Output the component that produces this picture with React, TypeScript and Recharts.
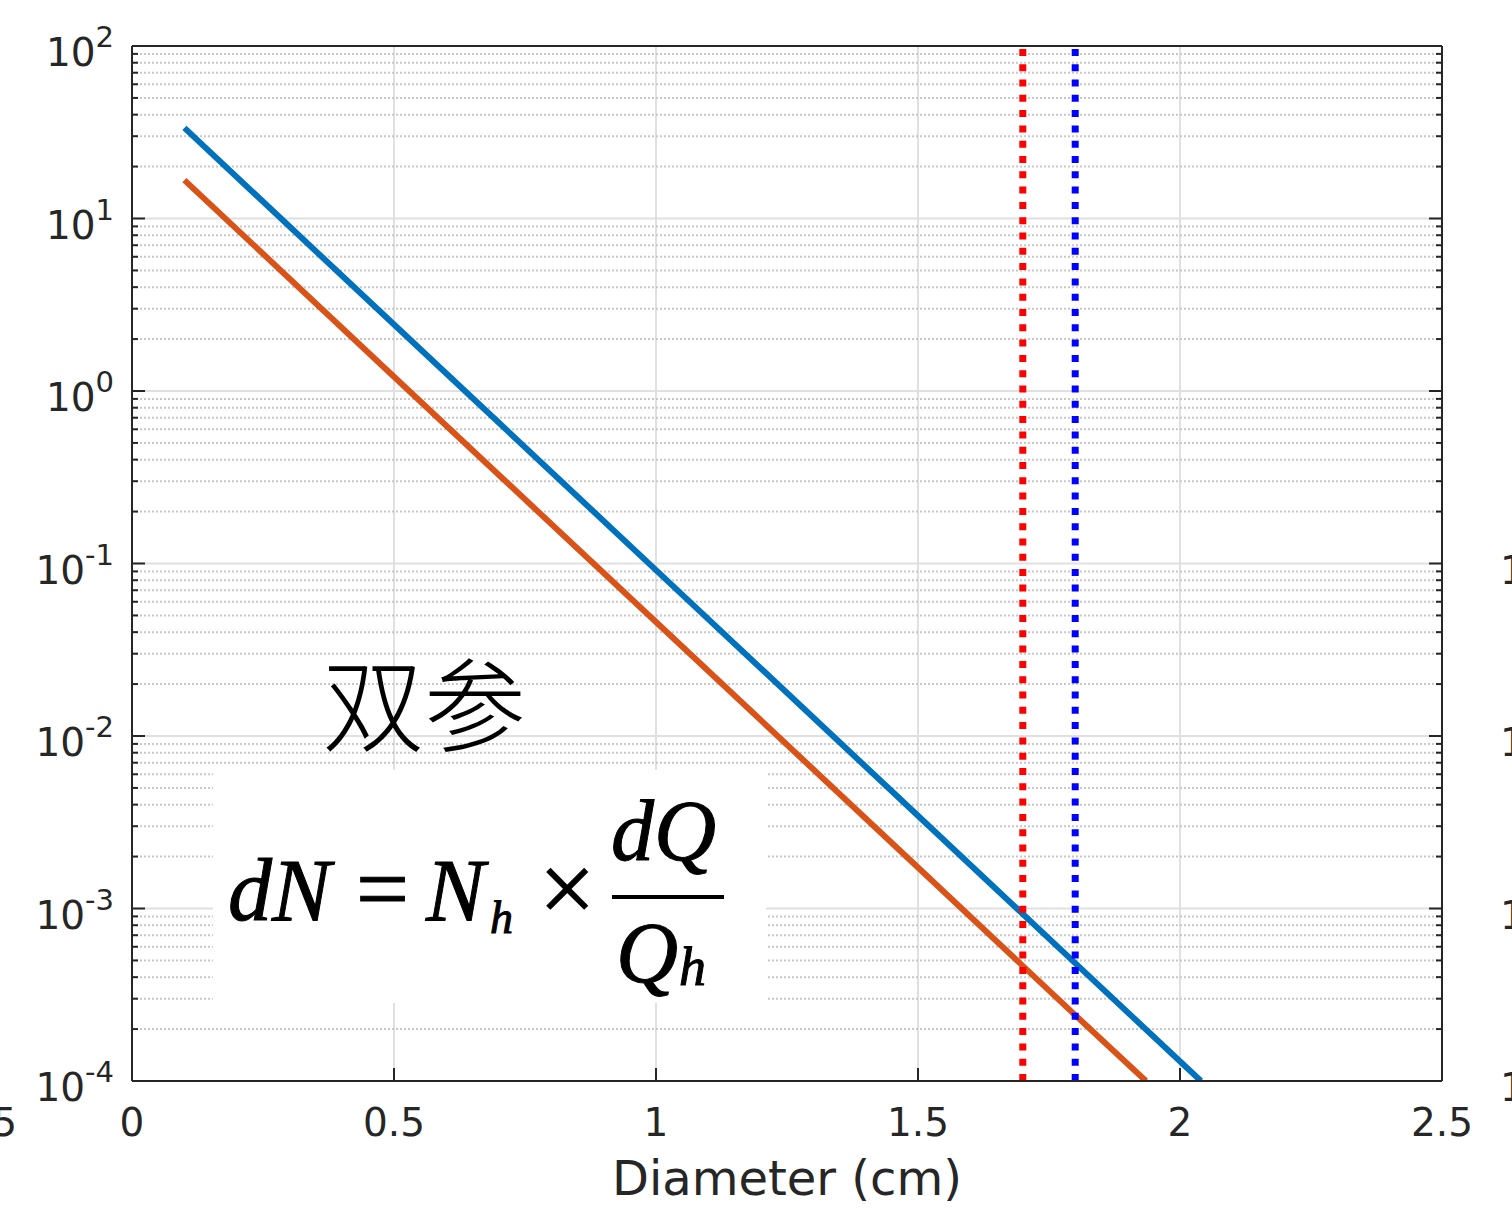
import React from 'react';
import {
  LineChart,
  Line,
  XAxis,
  YAxis,
  CartesianGrid,
  ReferenceLine,
} from 'recharts';

// (log y axis)
const blueX = [0.1, 0.5, 1.0, 1.5, 1.8, 2.04];
const blueY = [33.5, 2.43, 0.0916, 0.00345, 0.000482, 0.0001];
const orangeX = [0.1, 0.5, 1.0, 1.5, 1.8, 1.935];
const orangeY = [16.7, 1.21, 0.0458, 0.00173, 0.000241, 0.0001];

const xTicks = [0, 0.5, 1, 1.5, 2, 2.5];
const decades = [-4, -3, -2, -1, 0, 1, 2];
const minorMults = [2, 3, 4, 5, 6, 7, 8, 9];
const redLineX = 1.7;
const blueLineX = 1.8;

const majorTicks = decades.map((d) => Math.pow(10, d));
const minorTicks = decades.slice(0, -1).flatMap((d) => minorMults.map((m) => m * Math.pow(10, d)));
const yTicks = [...majorTicks, ...minorTicks].sort((a, b) => a - b);

const blueData = blueX.map((x, i) => ({ x, y: blueY[i] }));
const orangeData = orangeX.map((x, i) => ({ x, y: orangeY[i] }));

const AX = '#262626';
const FONT = '"DejaVu Sans", sans-serif';

const isMajor = (v: number) => majorTicks.some((m) => Math.abs(m - v) / m < 1e-6);
const expOf = (v: number) => Math.round(Math.log10(v));

const LeftTick = (props: any) => {
  const { x, y, payload } = props;
  const v = payload.value;
  const major = isMajor(v);
  return (
    <g>
      <line x1={x} x2={x + (major ? 13 : 6)} y1={y} y2={y} stroke={AX} strokeWidth={2} />
      {major && (
        <text x={x - 18} y={y + 20} textAnchor="end" fill={AX} fontSize={39} fontFamily={FONT}>
          10
          <tspan dy={-19} fontSize={29}>{expOf(v)}</tspan>
        </text>
      )}
    </g>
  );
};

const RightTick = (props: any) => {
  const { x, y, payload } = props;
  const v = payload.value;
  const major = isMajor(v);
  return (
    <g>
      <line x1={x} x2={x - (major ? 13 : 6)} y1={y} y2={y} stroke={AX} strokeWidth={2} />
      {/* labels of the neighbouring panel, cut off at the page edge */}
      {major && expOf(v) <= -1 && (
        <text x={x + 58} y={y + 20} fill={AX} fontSize={39} fontFamily={FONT}>10</text>
      )}
    </g>
  );
};

const BottomTick = (props: any) => {
  const { x, y, payload } = props;
  return (
    <g>
      <line x1={x} x2={x} y1={y} y2={y - 13} stroke={AX} strokeWidth={2} />
      <text x={x} y={y + 55} textAnchor="middle" fill={AX} fontSize={39} fontFamily={FONT}>
        {payload.value}
      </text>
    </g>
  );
};

const TopTick = (props: any) => {
  const { x, y } = props;
  return <line x1={x} x2={x} y1={y} y2={y + 13} stroke={AX} strokeWidth={2} />;
};

const serif = '"Liberation Serif", "Times New Roman", serif';

const Overlay = () => (
  <svg width={1512} height={1224} style={{ position: 'absolute', left: 0, top: 0, pointerEvents: 'none' }}>
    <text x={17} y={1136} textAnchor="end" fill={AX} fontSize={39} fontFamily={FONT}>2.5</text>
    <text x={322} y={744} fill="#000" fontSize={102} fontWeight={300} fontFamily='"Noto Sans CJK SC", sans-serif'>双参</text>
    <g transform="translate(213,770)">
      <rect x={0} y={0} width={553} height={233} fill="#fff" />
      <g fontFamily={serif} fill="#000" stroke="#000" strokeWidth={1}>
        <text x={15} y={150} fontSize={88} fontStyle="italic">dN</text>
        <text x={143} y={150} fontSize={94}>=</text>
        <text x={213} y={150} fontSize={88} fontStyle="italic">N</text>
        <text x={277} y={163} fontSize={46} fontStyle="italic">h</text>
        <text x={326} y={152} fontSize={100}>×</text>
        <text x={398} y={90} fontSize={86} fontStyle="italic">dQ</text>
        <text x={403} y={212} fontSize={86} fontStyle="italic">Q</text>
        <text x={466} y={215} fontSize={54} fontStyle="italic">h</text>
      </g>
      <line x1={399} x2={511} y1={127} y2={127} stroke="#000" strokeWidth={4} />
    </g>
  </svg>
);

export default function App() {
  return (
    <div style={{ position: 'absolute', left: 0, top: 0, width: 1512, height: 1224, background: '#fff' }}>
      <LineChart width={1512} height={1224} margin={{ top: 0, right: 0, bottom: 0, left: 0 }}>
        <CartesianGrid horizontal={false} stroke="#e0e0e0" strokeWidth={2} />
        {minorTicks.map((v) => (
          <ReferenceLine key={'m' + v} y={v} stroke="#c8c8c8" strokeWidth={2} strokeDasharray="2 2" />
        ))}
        {majorTicks.map((v) => (
          <ReferenceLine key={'M' + v} y={v} stroke="#e0e0e0" strokeWidth={2} />
        ))}
        <XAxis
          type="number"
          dataKey="x"
          domain={[0, 2.5]}
          ticks={xTicks}
          interval={0}
          height={143}
          tickSize={0}
          tickMargin={0}
          tickLine={false}
          axisLine={{ stroke: AX, strokeWidth: 2 }}
          tick={(p: any) => <BottomTick {...p} />}
          label={{ value: 'Diameter (cm)', position: 'insideBottom', offset: 29, fontSize: 48, fill: AX, fontFamily: FONT }}
        />
        <XAxis
          xAxisId="top"
          orientation="top"
          type="number"
          domain={[0, 2.5]}
          ticks={xTicks}
          interval={0}
          height={46}
          tickSize={0}
          tickMargin={0}
          tickLine={false}
          axisLine={{ stroke: AX, strokeWidth: 2 }}
          tick={(p: any) => <TopTick {...p} />}
        />
        <YAxis
          scale="log"
          domain={[1e-4, 100]}
          allowDataOverflow
          ticks={yTicks}
          interval={0}
          width={132}
          tickSize={0}
          tickMargin={0}
          tickLine={false}
          axisLine={{ stroke: AX, strokeWidth: 2 }}
          tick={(p: any) => <LeftTick {...p} />}
        />
        <YAxis
          yAxisId="right"
          orientation="right"
          scale="log"
          domain={[1e-4, 100]}
          allowDataOverflow
          ticks={yTicks}
          interval={0}
          width={70}
          tickSize={0}
          tickMargin={0}
          tickLine={false}
          axisLine={{ stroke: AX, strokeWidth: 2 }}
          tick={(p: any) => <RightTick {...p} />}
        />
        <Line data={blueData} dataKey="y" type="linear" stroke="#0072BD" strokeWidth={6} dot={false} isAnimationActive={false} />
        <Line data={orangeData} dataKey="y" type="linear" stroke="#D95319" strokeWidth={6} dot={false} isAnimationActive={false} />
        <ReferenceLine x={redLineX} stroke="#FF0000" strokeWidth={7} strokeDasharray="7 8.3" />
        <ReferenceLine x={blueLineX} stroke="#0000FF" strokeWidth={7} strokeDasharray="7 8.3" />
      </LineChart>
      <Overlay />
    </div>
  );
}
